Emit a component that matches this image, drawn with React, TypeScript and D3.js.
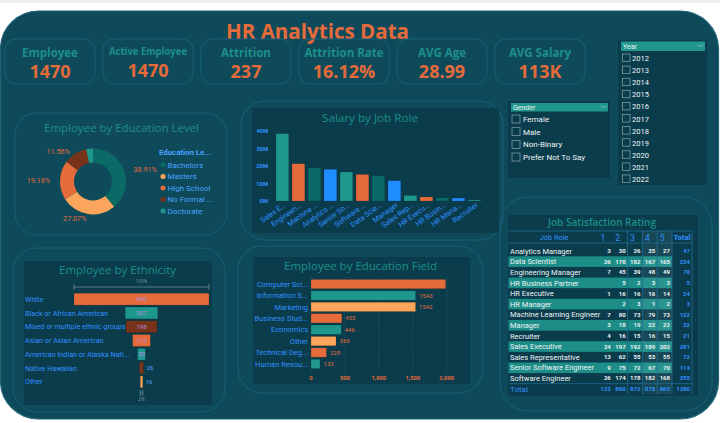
import React from "react";
import * as d3 from "d3";

// ---------------- data ----------------
const kpiLabels = ["Employee", "Active Employee", "Attrition", "Attrition Rate", "AVG Age", "AVG Salary"];
const kpiValues = ["1470", "1470", "237", "16.12%", "28.99", "113K"];

const educationLevels = ["Bachelors", "Masters", "High School", "No Formal ...", "Doctorate"];
const educationShares = [38.91, 27.07, 19.18, 11.56, 3.28];

const jobRoles = ["Sales E...", "Engineeri...", "Machine ...", "Analytics ...", "Senior So...", "Software ...", "Data Scie...", "Manager", "Sales Rep...", "HR Execu...", "HR Busin...", "HR Mana...", "Recruiter"];
const jobSalaries = [38.5, 21.3, 18.9, 18.1, 16.6, 15.2, 14.5, 11.6, 3.2, 2.3, 1.9, 1.7, 0.6]; // millions
const salaryTicks = [0, 10, 20, 30, 40];

const ethnicities = ["White", "Black or African American", "Mixed or multiple ethnic groups", "Asian or Asian American", "American Indian or Alaska Nati...", "Native Hawaiian", "Other"];
const ethnicityCounts = [860, 207, 198, 113, 50, 26, 16];

const eduFields = ["Computer Sci...", "Information S...", "Marketing", "Business Stud...", "Economics", "Other", "Technical Deg...", "Human Resou..."];
const eduFieldCounts = [1985, 1543, 1542, 455, 446, 369, 228, 133];
const eduFieldTicks = [0, 500, 1000, 1500, 2000];

const genders = ["Female", "Male", "Non-Binary", "Prefer Not To Say"];
const years = ["2012", "2013", "2014", "2015", "2016", "2017", "2018", "2019", "2020", "2021", "2022"];

const satisfactionRoles = ["Analytics Manager", "Data Scientist", "Engineering Manager", "HR Business Partner", "HR Executive", "HR Manager", "Machine Learning Engineer", "Manager", "Recruiter", "Sales Executive", "Sales Representative", "Senior Software Engineer", "Software Engineer"];
const satisfactionRatings = ["1", "2", "3", "4", "5"];
const satisfactionCounts: (number | null)[][] = [
  [3, 30, 26, 35, 27],
  [26, 170, 182, 167, 165],
  [7, 45, 39, 48, 49],
  [null, 5, 2, 3, 3],
  [1, 16, 16, 16, 14],
  [null, 2, 3, 1, 2],
  [7, 80, 73, 79, 73],
  [3, 18, 19, 22, 22],
  [4, 16, 15, 16, 15],
  [24, 197, 192, 189, 202],
  [13, 62, 55, 53, 55],
  [9, 75, 72, 67, 70],
  [26, 174, 178, 182, 168],
];
const satisfactionRowTotals = [47, 234, 70, 5, 24, 3, 122, 32, 21, 281, 72, 114, 255];
const satisfactionColTotals = [123, 890, 872, 878, 865];
const satisfactionGrandTotal = 1280;

// ---------------- styles ----------------
const C = {
  bg: "#0f4a5a",
  panel: "#0a3c4c",
  border: "#17607a",
  teal: "#1f978d",
  darkTeal: "#0b6a65",
  orange: "#e56b3a",
  lightOrange: "#fba45b",
  brown: "#77341a",
  blue: "#1f8cff",
  textBlue: "#3390ff",
  titleTeal: "#1d8f89",
  white: "#eef4f5",
};
const FONT = "'Open Sans', 'Noto Sans', sans-serif";
const NARROW = "Roboto, 'Noto Sans', sans-serif";

export default function App() {
  // KPI
  const kpiX = d3.scaleBand<string>().domain(kpiLabels).range([1, 589]).paddingInner(0.08).paddingOuter(0.04);

  // Donut
  const pie = d3.pie<number>().sort(null).value((d) => d)(educationShares);
  const arc = d3.arc<d3.PieArcDatum<number>>().innerRadius(19).outerRadius(33);
  const eduColors = [C.darkTeal, C.lightOrange, C.orange, C.brown, C.teal];
  const donutCx = 93, donutCy = 181.5;
  const legendY = d3.scalePoint<string>().domain(educationLevels).range([165, 211]);

  // Salary
  const xSal = d3.scaleBand<string>().domain(jobRoles).range([274.4, 482.4]).paddingInner(0.2).paddingOuter(0.1);
  const ySal = d3.scaleLinear().domain([0, 40]).range([201, 131]);
  const salColors = [C.teal, C.orange, C.darkTeal, C.blue];

  // Ethnicity
  const yEth = d3.scaleBand<string>().domain(ethnicities).range([293.25, 387.75]).paddingInner(0.14);
  const wEth = d3.scaleLinear().domain([0, d3.max(ethnicityCounts) as number]).range([0, 135]);
  const ethCx = 141.5;
  const ethColors = [C.orange, C.teal, C.brown, C.orange, C.teal, C.brown, C.lightOrange];
  const ethMin = d3.min(ethnicityCounts) as number;
  const ethMax = d3.max(ethnicityCounts) as number;

  // Education field
  const xEdu = d3.scaleLinear().domain([0, 2000]).range([311, 446.7]);
  const yEdu = d3.scaleBand<string>().domain(eduFields).range([279.4, 368.6]).paddingInner(0.18);
  const eduFieldColors = [C.orange, C.teal, C.lightOrange];

  // Slicers
  const genderY = d3.scalePoint<string>().domain(genders).range([119, 157]);
  const yearY = d3.scalePoint<string>().domain(years).range([58, 179]);

  // Table
  const tableRows = [...satisfactionRoles, "Total"];
  const yTab = d3.scaleBand<string>().domain(tableRows).range([245.7, 394.3]);
  const xTab = d3.scaleBand<string>().domain(satisfactionRatings).range([598, 672]);
  const totalColL = 672, totalColR = 692;

  const panelTitle = (txt: string, cx: number, y: number, w: number, bold = false) => (
    <text x={cx} y={y} textAnchor="middle" fontSize={11.5} fill={C.titleTeal} fontWeight={bold ? 600 : 400}
      textLength={w} lengthAdjust="spacingAndGlyphs">{txt}</text>
  );

  return (
    <svg width={720} height={423} style={{ position: "absolute", left: 0, top: 0 }} fontFamily={FONT}>
      <rect x={0} y={0} width={720} height={423} fill="#ffffff" />
      <rect x={0} y={0} width={720} height={3} fill="#f0f0f0" />
      {/* dashboard background */}
      <rect x={0.5} y={11} width={718} height={408} rx={38} fill={C.bg} stroke="#1d6478" strokeWidth={1.2} />

      {/* title */}
      <text x={317.5} y={39} textAnchor="middle" fontSize={22} fontWeight={700} fill={C.orange}
        textLength={183} lengthAdjust="spacingAndGlyphs">HR Analytics Data</text>

      {/* KPI cards */}
      {kpiLabels.map((lab, i) => {
        const x = kpiX(lab) as number;
        const w = kpiX.bandwidth();
        const cx = x + w / 2;
        const small = lab.length > 14;
        return (
          <g key={lab}>
            <rect x={x} y={39} width={w} height={45} rx={11} fill="none" stroke={C.border} strokeWidth={1} />
            <text x={cx} y={small ? 54.5 : 56.5} textAnchor="middle" fontSize={small ? 9.8 : 11.5} fontWeight={700} fill={C.titleTeal}
              textLength={small ? 78 : undefined} lengthAdjust="spacingAndGlyphs">{lab}</text>
            <text x={cx} y={small ? 76.5 : 78} textAnchor="middle" fontSize={18} fontWeight={700} fill={C.orange}>{kpiValues[i]}</text>
          </g>
        );
      })}

      {/* Year slicer */}
      <rect x={618} y={40} width={89} height={145} fill={C.panel} />
      <rect x={621} y={41.5} width={84} height={9.5} fill={C.teal} />
      <text x={623} y={49} fontSize={7} fill={C.white} fontFamily={NARROW}>Year</text>
      <path d="M698,44.5 l2.5,2.5 l2.5,-2.5" fill="none" stroke="#9fd0cc" strokeWidth={0.7} />
      {years.map((y) => (
        <g key={y}>
          <rect x={622.5} y={(yearY(y) as number) - 4} width={7.5} height={7.5} fill="none" stroke="#8aa4ab" strokeWidth={0.7} />
          <text x={632} y={(yearY(y) as number) + 3} fontSize={7.5} fill={C.white} fontFamily={NARROW}>{y}</text>
        </g>
      ))}

      {/* Gender slicer */}
      <rect x={508} y={101} width={102} height={77} fill={C.panel} />
      <rect x={511} y={103} width={97} height={8.5} fill={C.teal} />
      <text x={513} y={110} fontSize={7} fill={C.white} fontFamily={NARROW}>Gender</text>
      <path d="M601,105.5 l2.5,2.5 l2.5,-2.5" fill="none" stroke="#9fd0cc" strokeWidth={0.7} />
      {genders.map((g) => (
        <g key={g}>
          <rect x={512} y={(genderY(g) as number) - 4} width={8} height={8} fill="none" stroke="#8aa4ab" strokeWidth={0.7} />
          <text x={523} y={(genderY(g) as number) + 3} fontSize={8} fill={C.white} fontFamily={NARROW}>{g}</text>
        </g>
      ))}

      {/* Education level donut */}
      <rect x={15} y={113} width={212} height={122} rx={22} fill="none" stroke={C.border} />
      {panelTitle("Employee by Education Level", 121.5, 132, 155)}
      <g transform={`translate(${donutCx},${donutCy})`}>
        {pie.map((p, i) => (
          <path key={i} d={arc(p) as string} fill={eduColors[i]} />
        ))}
        {pie.map((p, i) => {
          if (educationShares[i] < 5) return null;
          const a = (p.startAngle + p.endAngle) / 2;
          const r = 43;
          const x = r * Math.sin(a);
          const y = -r * Math.cos(a) * 0.85;
          const anchor = Math.sin(a) > 0.1 ? "start" : Math.sin(a) < -0.1 ? "end" : "middle";
          return (
            <text key={"l" + i} x={x} y={y + 3} textAnchor={anchor} fontSize={7.2} fill={C.orange} fontFamily={NARROW}>
              {educationShares[i].toFixed(2)}%
            </text>
          );
        })}
      </g>
      <text x={159} y={154.5} fontSize={7.8} fontWeight={700} fill="#4aa2ff" fontFamily={NARROW}>Education Le...</text>
      {educationLevels.map((lev, i) => (
        <g key={lev}>
          <circle cx={163} cy={legendY(lev) as number} r={2.5} fill={eduColors[i]} />
          <text x={167.5} y={(legendY(lev) as number) + 2.8} fontSize={8} fill="#4aa2ff" fontFamily={NARROW}>{lev}</text>
        </g>
      ))}

      {/* Salary by job role */}
      <rect x={241} y={101} width={262} height={139} rx={24} fill="none" stroke={C.border} />
      <rect x={252} y={108} width={247} height={125} fill={C.panel} />
      {panelTitle("Salary by Job Role", 370, 122, 96)}
      {salaryTicks.map((t) => (
        <text key={t} x={268} y={ySal(t) + 2} textAnchor="end" fontSize={5.8} fontWeight={700} fill={C.textBlue} fontFamily={NARROW}>{t}M</text>
      ))}
      {jobRoles.map((r, i) => (
        <rect key={r} x={xSal(r)} y={ySal(jobSalaries[i])} width={xSal.bandwidth()} height={ySal(0) - ySal(jobSalaries[i])}
          fill={salColors[i % 4]} stroke="rgba(0,0,0,0.25)" strokeWidth={0.5} />
      ))}
      {jobRoles.map((r) => {
        const cx = (xSal(r) as number) + xSal.bandwidth() / 2;
        return (
          <text key={"t" + r} transform={`translate(${cx + 4},206) rotate(-36)`} textAnchor="end" fontSize={7.3} fill={C.textBlue} fontFamily={NARROW}>{r}</text>
        );
      })}

      {/* Ethnicity funnel */}
      <rect x={13} y={248} width={212} height={164} rx={24} fill="none" stroke={C.border} />
      <rect x={24} y={261} width={188} height={144} fill={C.panel} />
      {panelTitle("Employee by Ethnicity", 117.5, 274, 117)}
      <g stroke="#6f8a92" strokeWidth={0.8}>
        <line x1={ethCx - wEth(ethMax) / 2} x2={ethCx + wEth(ethMax) / 2} y1={287} y2={287} />
        <line x1={ethCx - wEth(ethMax) / 2} x2={ethCx - wEth(ethMax) / 2} y1={284} y2={290} />
        <line x1={ethCx + wEth(ethMax) / 2} x2={ethCx + wEth(ethMax) / 2} y1={284} y2={290} />
        <line x1={ethCx - wEth(ethMin) / 2} x2={ethCx + wEth(ethMin) / 2} y1={393} y2={393} />
        <line x1={ethCx - wEth(ethMin) / 2} x2={ethCx - wEth(ethMin) / 2} y1={390} y2={396} />
        <line x1={ethCx + wEth(ethMin) / 2} x2={ethCx + wEth(ethMin) / 2} y1={390} y2={396} />
      </g>
      <text x={ethCx} y={283} textAnchor="middle" fontSize={4.5} fill="#7f959c">100%</text>
      <text x={ethCx} y={401} textAnchor="middle" fontSize={4.5} fill="#7f959c">{Math.round((ethMin / ethMax) * 100)}%</text>
      {ethnicities.map((e, i) => {
        const y = yEth(e) as number;
        const h = yEth.bandwidth();
        const w = wEth(ethnicityCounts[i]);
        const inside = w >= 6;
        return (
          <g key={e}>
            <text x={25} y={y + h / 2 + 2.6} fontSize={7.2} fill={C.textBlue} fontFamily={NARROW}>{e}</text>
            <rect x={ethCx - w / 2} y={y} width={w} height={h} fill={ethColors[i]} stroke="rgba(0,0,0,0.25)" strokeWidth={0.5} />
            <text x={inside ? ethCx : ethCx + w / 2 + 3} y={y + h / 2 + 2.2} textAnchor={inside ? "middle" : "start"} fontSize={6}
              fill={inside ? "#b08ee0" : "#5aa4ff"} fontFamily={NARROW}>{ethnicityCounts[i]}</text>
          </g>
        );
      })}

      {/* Education field */}
      <rect x={238} y={246} width={245} height={147} rx={24} fill="none" stroke={C.border} />
      <rect x={253} y={257} width={217} height={127} fill={C.panel} />
      {panelTitle("Employee by Education Field", 360.5, 270, 153)}
      {eduFieldTicks.map((t) => (
        <g key={t}>
          <line x1={xEdu(t)} x2={xEdu(t)} y1={277} y2={373} stroke="#3a6b7b" strokeWidth={0.6} strokeDasharray="1,1.5" />
          <text x={xEdu(t)} y={380} textAnchor="middle" fontSize={5.8} fontWeight={700} fill={C.orange} fontFamily={NARROW}>{d3.format(",")(t)}</text>
        </g>
      ))}
      {eduFields.map((f, i) => {
        const y = yEdu(f) as number;
        const h = yEdu.bandwidth();
        const v = eduFieldCounts[i];
        return (
          <g key={f}>
            <text x={308} y={y + h / 2 + 2.7} textAnchor="end" fontSize={7.5} fill={C.textBlue} fontFamily={NARROW}>{f}</text>
            <rect x={xEdu(0)} y={y} width={xEdu(v) - xEdu(0)} height={h} fill={eduFieldColors[i % 3]} stroke="rgba(0,0,0,0.3)" strokeWidth={0.5} />
            {xEdu(v) < 440 && (
              <text x={xEdu(v) + 3.5} y={y + h / 2 + 2.2} fontSize={6} fill={C.orange} fontFamily={NARROW}>{v}</text>
            )}
          </g>
        );
      })}

      {/* Job satisfaction table */}
      <rect x={500} y={197} width={212} height={214} rx={28} fill="none" stroke={C.border} />
      <rect x={508} y={215} width={190} height={181} fill={C.panel} />
      {panelTitle("Job Satisfaction Rating", 602, 226, 108, true)}
      {satisfactionRoles.map((r, i) =>
        i % 2 === 1 ? (
          <rect key={"bg" + r} x={508.5} y={yTab(r)} width={totalColL - 508.5} height={yTab.bandwidth()} fill="#1c8d87" />
        ) : null
      )}
      <rect x={xTab("4")} y={231} width={totalColL - (xTab("4") as number)} height={163} fill="#ffffff" opacity={0.06} />
      <g stroke="#1f6f98" strokeWidth={0.8}>
        <line x1={509} x2={totalColR} y1={231} y2={231} />
        <line x1={509} x2={totalColR} y1={243} y2={243} />
        <line x1={509} x2={totalColR} y1={yTab("Total")} y2={yTab("Total")} />
        {["3", "4", "5"].map((c) => (
          <line key={c} x1={xTab(c)} x2={xTab(c)} y1={231} y2={394} />
        ))}
        <line x1={totalColL} x2={totalColL} y1={231} y2={394} />
        <line x1={totalColR} x2={totalColR} y1={231} y2={394} />
      </g>
      <text x={554} y={240} textAnchor="middle" fontSize={7.5} fill={C.textBlue} fontFamily={NARROW}>Job Role</text>
      {satisfactionRatings.map((c) => (
        <text key={"h" + c} x={(xTab(c) as number) + 2.5} y={240.5} fontSize={8.5} fill={C.textBlue} fontFamily={NARROW}>{c}</text>
      ))}
      <text x={(totalColL + totalColR) / 2} y={240} textAnchor="middle" fontSize={7.5} fontWeight={700} fill={C.textBlue} fontFamily={NARROW}>Total</text>
      {satisfactionRoles.map((r, i) => {
        const cy = (yTab(r) as number) + yTab.bandwidth() / 2;
        return (
          <g key={"row" + r}>
            <text x={510} y={cy + 2.7} fontSize={7.5} fill={C.white} fontFamily={NARROW}>{r}</text>
            {satisfactionRatings.map((c, j) => {
              const v = satisfactionCounts[i][j];
              return v === null ? null : (
                <text key={c} x={(xTab(c) as number) + xTab.bandwidth() - 2} y={cy + 2.1} textAnchor="end" fontSize={6} fontWeight={700}
                  fill={C.white} fontFamily={NARROW}>{v}</text>
              );
            })}
            <text x={totalColR - 2} y={cy + 2.1} textAnchor="end" fontSize={6} fontWeight={700} fill={C.textBlue} fontFamily={NARROW}>{satisfactionRowTotals[i]}</text>
          </g>
        );
      })}
      {(() => {
        const cy = (yTab("Total") as number) + yTab.bandwidth() / 2;
        return (
          <g>
            <text x={510} y={cy + 2.8} fontSize={8} fill={C.textBlue} fontFamily={NARROW}>Total</text>
            {satisfactionRatings.map((c, j) => (
              <text key={c} x={(xTab(c) as number) + xTab.bandwidth() - 2} y={cy + 2.1} textAnchor="end" fontSize={6} fontWeight={700}
                fill={C.textBlue} fontFamily={NARROW}>{satisfactionColTotals[j]}</text>
            ))}
            <text x={totalColR - 2} y={cy + 2.1} textAnchor="end" fontSize={6} fontWeight={700} fill={C.textBlue} fontFamily={NARROW}>{satisfactionGrandTotal}</text>
          </g>
        );
      })()}
    </svg>
  );
}
